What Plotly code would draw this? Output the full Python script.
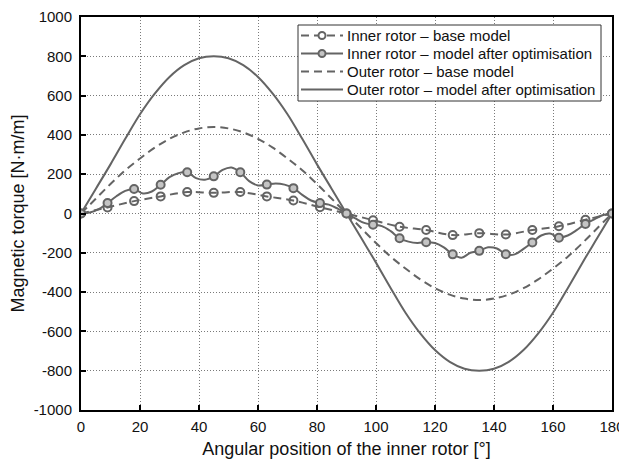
import plotly.graph_objects as go

# ---------------- data ----------------
angle_markers = list(range(0, 181, 9))
inner_base = [0, 31, 63, 87, 109, 105, 109, 87, 66, 32, 0,
              -34, -67, -84, -110, -100, -107, -84, -65, -32, 0]
inner_opt_markers = [0, 53, 125, 146, 210, 189, 210, 147, 129, 53, 0,
                     -57, -126, -146, -208, -190, -207, -147, -123, -53, 0]

angle_fine = list(range(0, 181, 3))
inner_opt_line = [0, 5, 22, 53, 88, 115, 125, 102, 112, 146, 185, 205, 210, 180, 172, 189,
                  222, 234, 210, 165, 143, 147, 153, 147, 129, 95, 66, 53, 45, 25, 0,
                  -25, -48, -57, -64, -90, -126, -143, -150, -146, -150, -172, -208, -225,
                  -200, -190, -172, -178, -207, -208, -180, -147, -112, -102, -123, -112,
                  -85, -53, -30, -8, 0]

angle_outer = list(range(0, 181, 5))
outer_base = [0, 75, 150, 220, 280, 335, 380, 413, 433, 440, 433, 413, 380, 335, 280, 220, 150, 75,
              0, -75, -150, -220, -280, -335, -380, -413, -433, -440, -433, -413, -380, -335,
              -280, -220, -150, -75, 0]
outer_opt = [0, 125, 250, 380, 505, 610, 695, 755, 790, 800, 790, 755, 695, 610, 505, 380, 250, 125,
             0, -125, -250, -380, -505, -610, -695, -755, -790, -800, -790, -755, -695, -610,
             -505, -380, -250, -125, 0]

names = ["Inner rotor \u2013 base model",
         "Inner rotor \u2013 model after optimisation",
         "Outer rotor \u2013 base model",
         "Outer rotor \u2013 model after optimisation"]

x_ticks = list(range(0, 181, 20))
y_ticks = list(range(-1000, 1001, 200))
y_ticktext = [str(v) for v in y_ticks]   # plain hyphen minus

# ---------------- style ----------------
col = "#646464"
dash = "8px,5px"
mk_base = dict(symbol="circle-open", size=8, color=col, line=dict(width=2, color=col))
mk_opt = dict(symbol="circle", size=8, color="#c4c4c4", line=dict(width=2, color=col))

# page has an 8px body margin: figure occupies screen pixels 8..627 / 8..461
OFF = 8
W, H = 627 - OFF, 461 - OFF
PX0, PX1, PY0, PY1 = 81, 612, 17, 410          # plot area in screen pixels
L, R, T, B = PX0 - OFF, 627 - PX1, PY0 - OFF, 461 - PY1
PW, PH = PX1 - PX0, PY1 - PY0


def px_x(px):
    return (px - PX0) / PW


def px_y(py):
    return (PY1 - py) / PH


fig = go.Figure()

fig.add_trace(go.Scatter(x=angle_outer, y=outer_base, mode="lines", name=names[2],
                         line=dict(color=col, width=2, dash=dash, shape="spline")))
fig.add_trace(go.Scatter(x=angle_outer, y=outer_opt, mode="lines", name=names[3],
                         line=dict(color=col, width=2, shape="spline")))
fig.add_trace(go.Scatter(x=angle_markers, y=inner_base, mode="lines+markers", name=names[0],
                         line=dict(color=col, width=2, dash=dash, shape="spline"),
                         marker=mk_base))
fig.add_trace(go.Scatter(x=angle_fine, y=inner_opt_line, mode="lines", name=names[1],
                         line=dict(color=col, width=2, shape="spline")))
fig.add_trace(go.Scatter(x=angle_markers, y=inner_opt_markers, mode="markers", name=names[1],
                         marker=mk_opt))

# ---------------- manual legend (screen pixels) ----------------
box = dict(x0=298, x1=601, y0=25, y1=101)
rows = [35.5, 53.5, 71.5, 89.5]
seg = (301, 343)
mk_cx = 322
txt_x = 345
styles = [(dash, "open"), ("solid", "filled"), (dash, None), ("solid", None)]

shapes = [dict(type="rect", xref="paper", yref="paper",
               x0=px_x(box["x0"]), x1=px_x(box["x1"]),
               y0=px_y(box["y1"]), y1=px_y(box["y0"]),
               line=dict(color="#333", width=1), fillcolor="white", layer="above")]
annotations = []
for ry, name, (ds, mk) in zip(rows, names, styles):
    shapes.append(dict(type="line", xref="paper", yref="paper",
                       x0=px_x(seg[0]), x1=px_x(seg[1]), y0=px_y(ry), y1=px_y(ry),
                       line=dict(color=col, width=2, dash=ds), layer="above"))
    if mk:
        shapes.append(dict(type="circle", xref="paper", yref="paper",
                           xsizemode="pixel", ysizemode="pixel",
                           xanchor=px_x(mk_cx), yanchor=px_y(ry),
                           x0=-3.5, x1=3.5, y0=-3.5, y1=3.5,
                           line=dict(color=col, width=2),
                           fillcolor="#c4c4c4" if mk == "filled" else "white",
                           layer="above"))
    annotations.append(dict(xref="paper", yref="paper", x=px_x(txt_x), y=px_y(ry),
                            xanchor="left", yanchor="middle", showarrow=False,
                            text=name, font=dict(size=15, color="#111")))

font = "Liberation Sans, Arial, sans-serif"
axis_common = dict(showline=True, linecolor="black", linewidth=2, mirror=True,
                   ticks="inside", ticklen=5, tickcolor="black", tickwidth=1.5,
                   showgrid=True, gridcolor="#7a7a7a", griddash="1px,2px", gridwidth=1,
                   zeroline=False, tickfont=dict(size=15, color="#111"), automargin=False,
                   ticklabeloverflow="allow")

fig.update_layout(
    width=W, height=H,
    margin=dict(l=L, r=R, t=T, b=B),
    paper_bgcolor="white", plot_bgcolor="white",
    font=dict(family=font, size=15, color="#111"),
    showlegend=False,
    shapes=shapes, annotations=annotations,
    xaxis=dict(range=[0, 180], tickvals=x_ticks,
               title=dict(text="Angular position of the inner rotor [\u00b0]", standoff=8),
               ticklabelstandoff=2, **axis_common),
    yaxis=dict(range=[-1000, 1000], tickvals=y_ticks, ticktext=y_ticktext,
               title=dict(text="Magnetic torque [N\u00b7m/m]", standoff=5),
               ticklabelstandoff=4, **axis_common),
)

fig.write_html("out.html")
